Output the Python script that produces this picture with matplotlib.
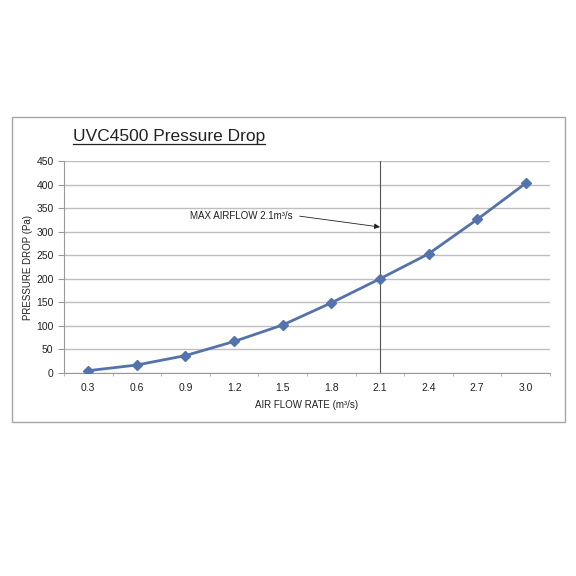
import matplotlib
matplotlib.use("Agg")
import matplotlib.pyplot as plt
from matplotlib.patches import Rectangle
from matplotlib.lines import Line2D

plt.rcParams['font.family'] = ['Liberation Sans', 'DejaVu Sans']

# data
flow_labels = ['0.3', '0.6', '0.9', '1.2', '1.5', '1.8', '2.1', '2.4', '2.7', '3.0']
pressure_drop = [5, 17, 37, 67, 102, 149, 200, 253, 326, 403]
max_airflow_idx = 6  # 2.1 m3/s

fig = plt.figure(figsize=(5.76, 5.76), dpi=100)
fig.patches.append(Rectangle((12 / 576, 1 - 422 / 576), 553 / 576, 305 / 576,
                             transform=fig.transFigure, fill=False,
                             edgecolor='#A6A6A6', lw=1.0))

ax = fig.add_axes([0.111, 0.3524, 0.844, 0.368])
x = list(range(len(flow_labels)))
ax.plot(x, pressure_drop, color='#5472AC', lw=2, marker='D', markersize=5,
        zorder=3)

ax.set_xlim(-0.5, len(flow_labels) - 0.5)
ax.set_ylim(0, 450)
ax.set_yticks(range(0, 451, 50))
ax.set_xticks(x)
ax.set_xticklabels(flow_labels)
ax.set_xticks([i - 0.5 for i in range(len(flow_labels) + 1)], minor=True)
ax.tick_params(axis='x', which='major', length=0, labelsize=7.5,
               colors='#222222', pad=7)
ax.tick_params(axis='x', which='minor', length=2.5, color='#AAAAAA')
ax.tick_params(axis='y', length=4, color='#999999', labelsize=7.5,
               labelcolor='#222222')
ax.yaxis.grid(True, color='#BFBFBF', lw=1)
ax.set_axisbelow(True)
for s in ['top', 'right']:
    ax.spines[s].set_visible(False)
for s in ['left', 'bottom']:
    ax.spines[s].set_color('#999999')

ax.axvline(max_airflow_idx, color='#555555', lw=0.8, zorder=2)
ax.text(2.1, 333, 'MAX AIRFLOW 2.1m³/s', fontsize=7, va='center', ha='left',
        color='#222222')
ax.annotate('', xy=(max_airflow_idx, 310), xytext=(4.35, 333),
            arrowprops=dict(arrowstyle='-|>', lw=0.6, color='#222222',
                            mutation_scale=8, shrinkA=0, shrinkB=0))

ax.set_xlabel('AIR FLOW RATE (m³/s)', fontsize=7, color='#222222', labelpad=5)
ax.set_ylabel('PRESSURE DROP (Pa)', fontsize=7, color='#222222', labelpad=2)

title = fig.text(73 / 576, 1 - 137 / 576, 'UVC4500 Pressure Drop', fontsize=12.5,
                 va='center', ha='left', color='#222222')
fig.canvas.draw()
bb = title.get_window_extent().transformed(fig.transFigure.inverted())
fig.lines.append(Line2D([bb.x0, bb.x1], [bb.y0 + 0.001, bb.y0 + 0.001],
                        transform=fig.transFigure, color='#222222', lw=0.9))

fig.savefig('out.png', dpi=100, facecolor='white')
